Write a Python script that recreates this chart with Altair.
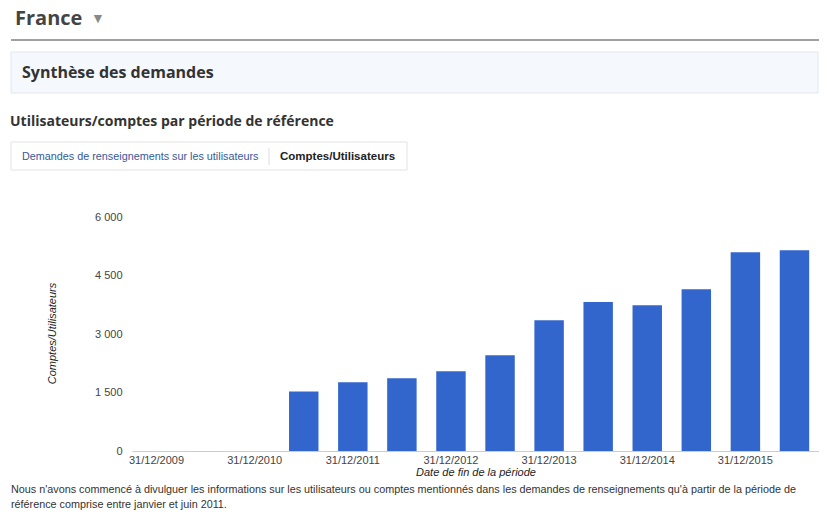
import altair as alt
import pandas as pd

# ---- data ----
periods = ["31/12/2009", "30/06/2010", "31/12/2010", "30/06/2011", "31/12/2011",
           "30/06/2012", "31/12/2012", "30/06/2013", "31/12/2013", "30/06/2014",
           "31/12/2014", "30/06/2015", "31/12/2015", "30/06/2016"]
comptes = [0, 0, 0, 1526, 1761, 1863, 2043, 2453, 3351, 3820, 3735, 4145, 5094, 5145]
x_labels = ["31/12/2009", "31/12/2010", "31/12/2011", "31/12/2012",
            "31/12/2013", "31/12/2014", "31/12/2015"]
y_ticks = [0, 1500, 3000, 4500, 6000]

page_title = "France"
section_title = "Synthèse des demandes"
chart_title = "Utilisateurs/comptes par période de référence"
tab1 = "Demandes de renseignements sur les utilisateurs"
tab2 = "Comptes/Utilisateurs"
y_title = "Comptes/Utilisateurs"
x_title = "Date de fin de la période"
note1 = ("Nous n'avons commencé à divulguer les informations sur les utilisateurs ou comptes "
         "mentionnés dans les demandes de renseignements qu'à partir de la période de")
note2 = "référence comprise entre janvier et juin 2011."

df = pd.DataFrame({"periode": periods, "valeur": comptes})
one = pd.DataFrame({"k": [0]})

W, H = 687, 234
OX, OY = 132, 217  # plot origin on page

SANS = "Liberation Sans"
HEAD = "Open Sans"


def txt(s, px, py, size=11, color="#333333", weight="normal", font=SANS, style="normal",
        baseline="middle"):
    return alt.Chart(one).mark_text(
        align="left", baseline=baseline, fontSize=size, color=color,
        fontWeight=weight, font=font, fontStyle=style
    ).encode(x=alt.value(px - OX), y=alt.value(py - OY), text=alt.value(s))


bars = alt.Chart(df).mark_bar(color="#3366CC").encode(
    x=alt.X("periode:N", sort=periods,
            scale=alt.Scale(paddingInner=0.4, paddingOuter=0.2),
            axis=alt.Axis(values=x_labels, labelAngle=0, labelFontSize=11, labelColor="#444444",
                          labelFont=SANS, ticks=False, domainColor="#cccccc", labelPadding=3,
                          title=x_title, titleFont=SANS, titleFontSize=11, titleFontStyle="italic",
                          titleFontWeight="normal", titleColor="#222222", titlePadding=1)),
    y=alt.Y("valeur:Q", scale=alt.Scale(domain=[0, 6000], nice=False),
            axis=alt.Axis(values=y_ticks, grid=False, domain=False, ticks=False,
                          labelExpr="replace(format(datum.value, ','), ',', ' ')",
                          labelFontSize=11, labelColor="#444444", labelFont=SANS, labelPadding=10,
                          title=y_title, titleFont=SANS, titleFontSize=11, titleFontStyle="italic",
                          titleFontWeight="normal", titleColor="#222222",
                          titleX=52 - OX, titleY=333 - OY, titleAngle=-90,
                          titleBaseline="middle", titleAlign="center")),
)

rule_head = alt.Chart(one).mark_rule(color="#444444", strokeWidth=1.2).encode(
    x=alt.value(11 - OX), x2=alt.value(819 - OX), y=alt.value(40 - OY))
box = alt.Chart(one).mark_rect(fill="#f5f8fd", stroke="#e3e8ef", strokeWidth=1).encode(
    x=alt.value(11 - OX), x2=alt.value(818 - OX), y=alt.value(52 - OY), y2=alt.value(93 - OY))
tabbox = alt.Chart(one).mark_rect(fill="#ffffff", stroke="#e3e3e3", strokeWidth=1).encode(
    x=alt.value(11 - OX), x2=alt.value(407 - OX), y=alt.value(142 - OY), y2=alt.value(170 - OY))
tabsep = alt.Chart(one).mark_rule(color="#dddddd").encode(
    x=alt.value(269 - OX), y=alt.value(148 - OY), y2=alt.value(165 - OY))

layers = [
    rule_head, box, tabbox, tabsep,
    txt(page_title, 15, 25, size=20, color="#444444", weight="bold", font=HEAD,
        baseline="alphabetic"),
    txt("▼", 91, 19, size=14, color="#888888", font=SANS),
    txt(section_title, 22, 73, size=16, color="#333333", weight="bold", font=HEAD),
    txt(chart_title, 10, 122, size=14, color="#333333", weight="bold", font=HEAD),
    txt(tab1, 22, 157, size=10.8, color="#365899"),
    txt(tab2, 280, 157, size=11.5, color="#222222", weight="bold"),
    txt(note1, 11, 490, size=10.8, color="#333333"),
    txt(note2, 11, 505, size=10.8, color="#333333"),
    bars,
]

chart = alt.layer(*layers).properties(
    width=W, height=H,
    autosize=alt.AutoSizeParams(type="none"),
    padding={"left": OX - 8, "top": OY - 8, "right": 0, "bottom": 60},
).configure(background="#ffffff").configure_view(stroke=None)

chart.save("out.html", embed_options={"renderer": "svg", "actions": False})
